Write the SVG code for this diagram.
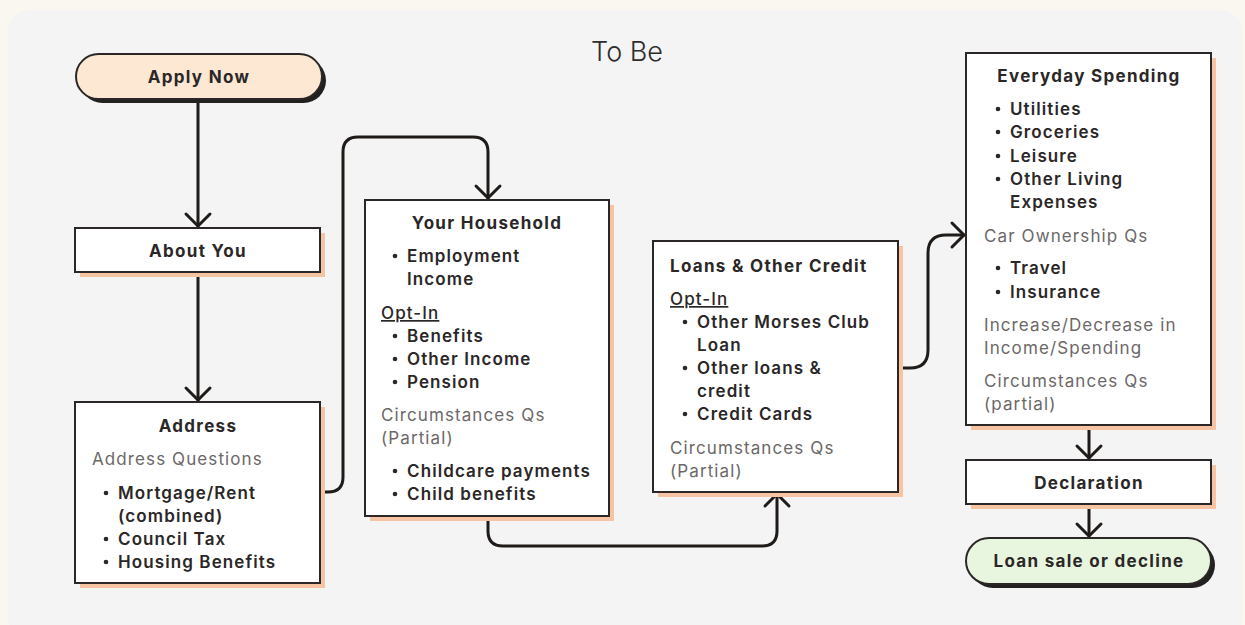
<svg xmlns="http://www.w3.org/2000/svg" width="1245" height="625" viewBox="0 0 1245 625">
<defs>
<style>
.bg{fill:#faf7f1}
.panel{fill:#f4f4f4}
.box{fill:#ffffff;stroke:#2b2727;stroke-width:2}
.sh{fill:#f6c4a2}
.dsh{fill:#232020}
.conn{fill:none;stroke:#1f1b19;stroke-width:3;stroke-linecap:round;stroke-linejoin:round}
.ttl{font-family:Inter,"Liberation Sans",sans-serif;font-weight:700;font-size:17px;fill:#2b2727;letter-spacing:1.3px}
.b{font-family:Inter,"Liberation Sans",sans-serif;font-weight:600;font-size:17px;fill:#2b2727;letter-spacing:1.1px}
.g{font-family:Inter,"Liberation Sans",sans-serif;font-weight:400;font-size:17px;fill:#6b6867;letter-spacing:1.1px}
.u{font-family:Inter,"Liberation Sans",sans-serif;font-weight:500;font-size:17px;fill:#2b2727;letter-spacing:1.1px;text-decoration:underline}
.dot{fill:#2b2727}
</style>
</defs>
<rect class="bg" x="0" y="0" width="1245" height="625"/>
<rect class="panel" x="8" y="10" width="1234" height="630" rx="22"/>
<text x="627" y="61" text-anchor="middle" font-family="Inter,'Liberation Sans',sans-serif" font-size="27" font-weight="300" fill="#2f2c2c">To Be</text>

<g id="connectors">
<path class="conn" d="M198,99 V226"/>
<path class="conn" d="M186,214 L198,226 L210,214"/>
<path class="conn" d="M198,272 V400"/>
<path class="conn" d="M186,388 L198,400 L210,388"/>
<path class="conn" d="M321,492 H328 Q343,492 343,477 V152 Q343,137 358,137 H473 Q488,137 488,152 V198"/>
<path class="conn" d="M476,186 L488,198 L500,186"/>
<path class="conn" d="M488,517 V531 Q488,546 503,546 H762 Q777,546 777,531 V494"/>
<path class="conn" d="M765,506 L777,494 L789,506"/>
<path class="conn" d="M899,368 H910 Q928,368 928,350 V253 Q928,235 946,235 H964"/>
<path class="conn" d="M952,223 L964,235 L952,247"/>
<path class="conn" d="M1089,426 V458"/>
<path class="conn" d="M1077,446 L1089,458 L1101,446"/>
<path class="conn" d="M1089,505 V536"/>
<path class="conn" d="M1077,524 L1089,536 L1101,524"/>
</g>

<g id="apply-now">
<rect class="dsh" x="80" y="58" width="246" height="45" rx="22.5"/>
<rect x="76" y="54" width="246" height="45" rx="22.5" fill="#fde8d3" stroke="#2b2727" stroke-width="2"/>
<text class="ttl" x="199" y="83" text-anchor="middle">Apply Now</text>
</g>

<g id="about-you">
<rect class="sh" x="80" y="233" width="245" height="44"/>
<rect class="box" x="75" y="228" width="245" height="44"/>
<text class="ttl" x="198" y="257" text-anchor="middle">About You</text>
</g>

<g id="address">
<rect class="sh" x="80" y="407" width="245" height="181"/>
<rect class="box" x="75" y="402" width="245" height="181"/>
<text class="ttl" x="198" y="432" text-anchor="middle">Address</text>
<text class="g" x="92" y="465">Address Questions</text>
<circle class="dot" cx="106" cy="493" r="2.3"/>
<text class="b" x="118" y="499">Mortgage/Rent</text>
<text class="b" x="118" y="522">(combined)</text>
<circle class="dot" cx="106" cy="539" r="2.3"/>
<text class="b" x="118" y="545">Council Tax</text>
<circle class="dot" cx="106" cy="562" r="2.3"/>
<text class="b" x="118" y="568">Housing Benefits</text>
</g>

<g id="your-household">
<rect class="sh" x="370" y="205" width="244" height="316"/>
<rect class="box" x="365" y="200" width="244" height="316"/>
<text class="ttl" x="487" y="229" text-anchor="middle">Your Household</text>
<circle class="dot" cx="395" cy="256" r="2.3"/>
<text class="b" x="407" y="262">Employment</text>
<text class="b" x="407" y="285">Income</text>
<text class="u" x="381" y="319">Opt-In</text>
<circle class="dot" cx="395" cy="336" r="2.3"/>
<text class="b" x="407" y="342">Benefits</text>
<circle class="dot" cx="395" cy="359" r="2.3"/>
<text class="b" x="407" y="365">Other Income</text>
<circle class="dot" cx="395" cy="382" r="2.3"/>
<text class="b" x="407" y="388">Pension</text>
<text class="g" x="381" y="421">Circumstances Qs</text>
<text class="g" x="381" y="444">(Partial)</text>
<circle class="dot" cx="395" cy="471" r="2.3"/>
<text class="b" x="407" y="477">Childcare payments</text>
<circle class="dot" cx="395" cy="494" r="2.3"/>
<text class="b" x="407" y="500">Child benefits</text>
</g>

<g id="loans-other-credit">
<rect class="sh" x="658" y="246" width="245" height="251"/>
<rect class="box" x="653" y="241" width="245" height="251"/>
<text class="ttl" x="670" y="272">Loans &amp; Other Credit</text>
<text class="u" x="670" y="305">Opt-In</text>
<circle class="dot" cx="685" cy="322" r="2.3"/>
<text class="b" x="697" y="328">Other Morses Club</text>
<text class="b" x="697" y="351">Loan</text>
<circle class="dot" cx="685" cy="368" r="2.3"/>
<text class="b" x="697" y="374">Other loans &amp;</text>
<text class="b" x="697" y="397">credit</text>
<circle class="dot" cx="685" cy="414" r="2.3"/>
<text class="b" x="697" y="420">Credit Cards</text>
<text class="g" x="670" y="454">Circumstances Qs</text>
<text class="g" x="670" y="477">(Partial)</text>
</g>

<g id="everyday-spending">
<rect class="sh" x="971" y="58" width="245" height="372"/>
<rect class="box" x="966" y="53" width="245" height="372"/>
<text class="ttl" x="1089" y="82" text-anchor="middle">Everyday Spending</text>
<circle class="dot" cx="998" cy="109" r="2.3"/>
<text class="b" x="1010" y="115">Utilities</text>
<circle class="dot" cx="998" cy="132" r="2.3"/>
<text class="b" x="1010" y="138">Groceries</text>
<circle class="dot" cx="998" cy="156" r="2.3"/>
<text class="b" x="1010" y="162">Leisure</text>
<circle class="dot" cx="998" cy="179" r="2.3"/>
<text class="b" x="1010" y="185">Other Living</text>
<text class="b" x="1010" y="208">Expenses</text>
<text class="g" x="984" y="242">Car Ownership Qs</text>
<circle class="dot" cx="998" cy="268" r="2.3"/>
<text class="b" x="1010" y="274">Travel</text>
<circle class="dot" cx="998" cy="292" r="2.3"/>
<text class="b" x="1010" y="298">Insurance</text>
<text class="g" x="984" y="331">Increase/Decrease in</text>
<text class="g" x="984" y="354">Income/Spending</text>
<text class="g" x="984" y="387">Circumstances Qs</text>
<text class="g" x="984" y="410">(partial)</text>
</g>

<g id="declaration">
<rect class="sh" x="971" y="465" width="245" height="44"/>
<rect class="box" x="966" y="460" width="245" height="44"/>
<text class="ttl" x="1089" y="489" text-anchor="middle">Declaration</text>
</g>

<g id="loan-sale-or-decline">
<rect class="dsh" x="970" y="542" width="245" height="46" rx="23"/>
<rect x="966" y="538" width="245" height="46" rx="23" fill="#e8f6df" stroke="#2b2727" stroke-width="2"/>
<text class="ttl" x="1089" y="567" text-anchor="middle">Loan sale or decline</text>
</g>
</svg>
